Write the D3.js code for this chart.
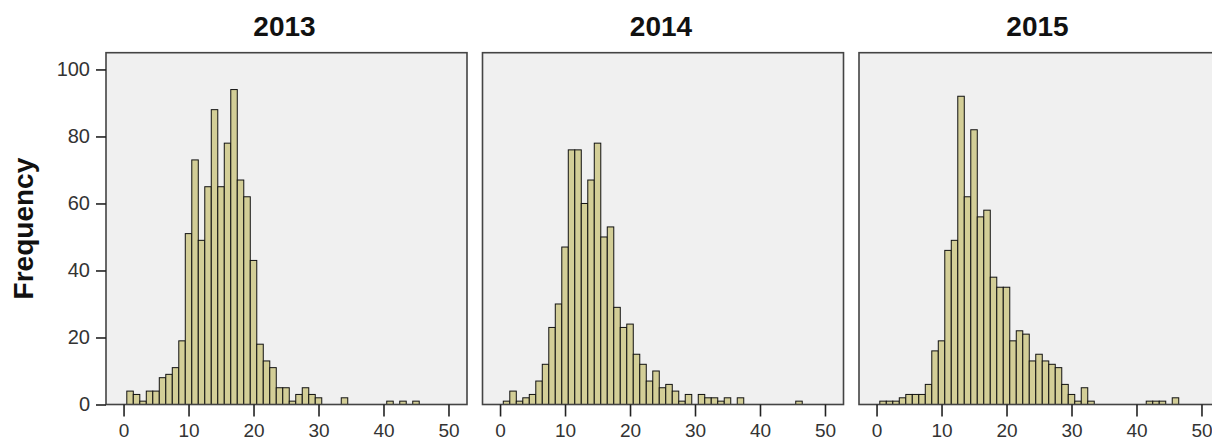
<!DOCTYPE html>
<html>
<head>
<meta charset="utf-8">
<script src="https://cdn.jsdelivr.net/npm/d3@7"></script>
<style>
  body { margin: 0; background: #fff; }
  svg { display: block; font-family: Arial, "Liberation Sans", sans-serif; }
</style>
</head>
<body>
<div id="chart"></div>
<script>
// bin centres (bin width 1)
const bins = [0,1,2,3,4,5,6,7,8,9,10,11,12,13,14,15,16,17,18,19,20,21,22,23,24,25,
  26,27,28,29,30,31,32,33,34,35,36,37,38,39,40,41,42,43,44,45,46,47,48,49,50];

const years = ["2013", "2014", "2015"];

const counts2013 = [0,4,3,1,4,4,8,9,11,19,51,73,49,65,88,65,78,94,67,62,43,18,13,11,5,5,
  1,3,5,3,2,0,0,0,2,0,0,0,0,0,0,1,0,1,0,1,0,0,0,0,0];
const counts2014 = [0,1,4,1,2,3,7,12,23,30,47,76,76,60,67,78,50,53,29,23,24,15,12,7,10,5,
  6,4,1,3,0,3,2,2,1,2,0,2,0,0,0,0,0,0,0,0,1,0,0,0,0];
const counts2015 = [0,1,1,1,2,3,3,3,6,16,19,46,49,92,62,82,56,58,38,35,35,19,22,21,13,15,
  13,12,11,6,3,1,5,1,0,0,0,0,0,0,0,0,1,1,1,0,2,0,0,0,0];
const allCounts = [counts2013, counts2014, counts2015];

const xTicks = [0, 10, 20, 30, 40, 50];
const yTicks = [0, 20, 40, 60, 80, 100];

const W = 1212, H = 440;
const margin = { top: 52.7, left: 106 };
const panelW = 361, gap = 15.5;
const baseY = 404.5;

const svg = d3.select("#chart")
  .append("svg")
  .attr("width", W)
  .attr("height", H);

const x = d3.scaleLinear().domain([-2.7, 52.85]).range([0, panelW]);
const y = d3.scaleLinear().domain([0, 105]).range([baseY, margin.top]);

years.forEach((yr, p) => {
  const g = svg.append("g")
    .attr("transform", `translate(${margin.left + p * (panelW + gap)},0)`);

  // panel background
  g.append("rect")
    .attr("x", 0).attr("y", margin.top)
    .attr("width", panelW).attr("height", baseY - margin.top)
    .attr("fill", "#f0f0f0");

  // bars
  const data = bins.map((b, i) => ({ b, c: allCounts[p][i] })).filter(d => d.c > 0);
  g.selectAll("rect.bar")
    .data(data)
    .enter()
    .append("rect")
    .attr("class", "bar")
    .attr("x", d => x(d.b - 0.5))
    .attr("width", d => x(d.b + 0.5) - x(d.b - 0.5))
    .attr("y", d => y(d.c))
    .attr("height", d => y(0) - y(d.c))
    .attr("fill", "#d3ce97")
    .attr("stroke", "#111")
    .attr("stroke-width", 1);

  // frame
  g.append("rect")
    .attr("x", 0).attr("y", margin.top)
    .attr("width", panelW).attr("height", baseY - margin.top)
    .attr("fill", "none")
    .attr("stroke", "#444")
    .attr("stroke-width", 1.6);

  // x axis
  const xa = g.append("g")
    .attr("transform", `translate(0,${baseY})`)
    .call(d3.axisBottom(x).tickValues(xTicks).tickSize(12).tickPadding(7));
  xa.select(".domain").remove();
  xa.selectAll("line").attr("stroke", "#222").attr("stroke-width", 1.6);
  xa.selectAll("text").attr("font-size", 19).attr("fill", "#333")
    .attr("font-family", "Arial, 'Liberation Sans', sans-serif");

  // y axis on first panel only
  if (p === 0) {
    const ya = g.append("g")
      .call(d3.axisLeft(y).tickValues(yTicks).tickSize(10).tickPadding(6));
    ya.select(".domain").remove();
    ya.selectAll("line").attr("stroke", "#222").attr("stroke-width", 1.6);
    ya.selectAll("text").attr("font-size", 20).attr("fill", "#333")
      .attr("font-family", "Arial, 'Liberation Sans', sans-serif");
  }

  // title
  g.append("text")
    .attr("x", panelW / 2 - 2)
    .attr("y", 36)
    .attr("text-anchor", "middle")
    .attr("font-size", 28)
    .attr("font-weight", "bold")
    .attr("fill", "#111")
    .text(yr);
});

// y label
svg.append("text")
  .attr("transform", `translate(33,${(margin.top + baseY) / 2}) rotate(-90)`)
  .attr("text-anchor", "middle")
  .attr("font-size", 28)
  .attr("font-weight", "bold")
  .attr("fill", "#111")
  .text("Frequency");
</script>
</body>
</html>
